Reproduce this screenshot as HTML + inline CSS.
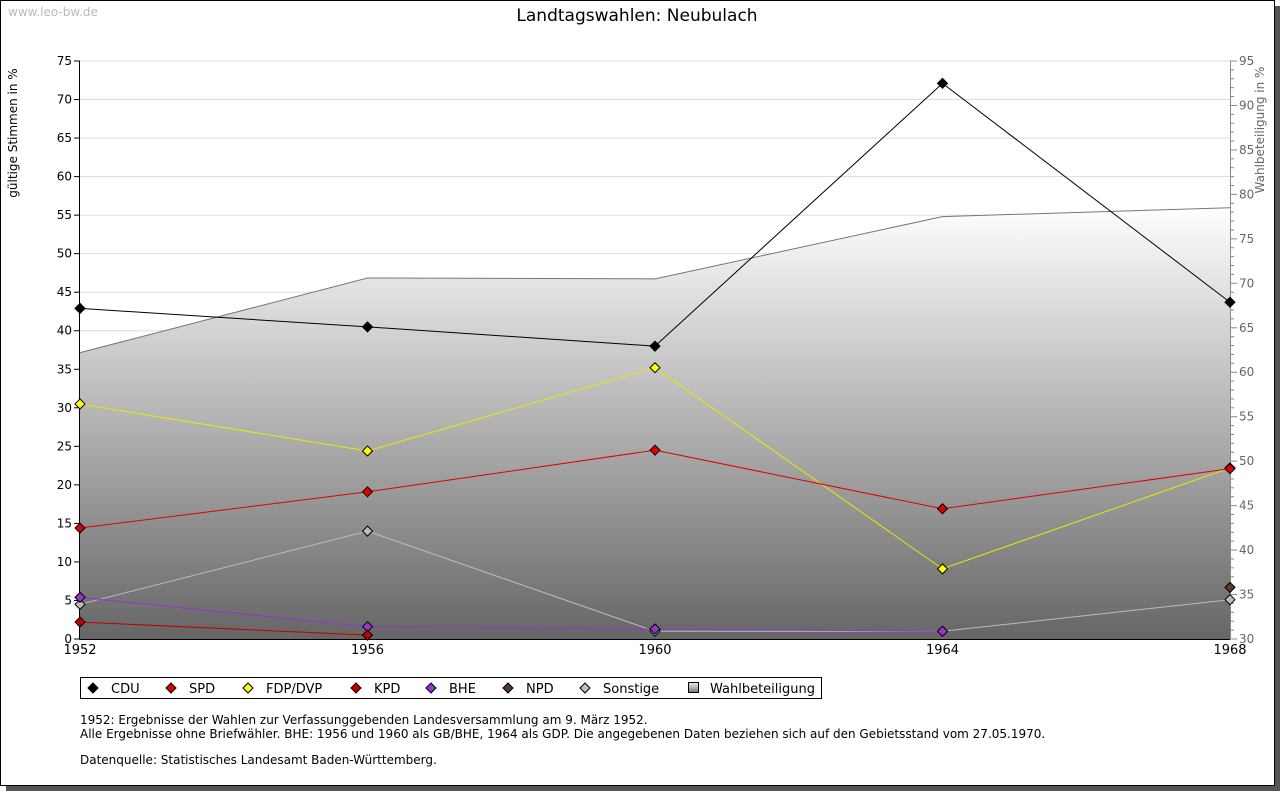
<!DOCTYPE html>
<html><head><meta charset="utf-8"><style>
body{margin:0;background:#fff;font-family:"DejaVu Sans","Liberation Sans",sans-serif;}
svg text{font-family:"DejaVu Sans","Liberation Sans",sans-serif;}
</style></head><body>
<svg id="c" width="1280" height="791" xmlns="http://www.w3.org/2000/svg">
<defs>
<linearGradient id="g" gradientUnits="userSpaceOnUse" x1="0" y1="205" x2="0" y2="639">
<stop offset="0" stop-color="#ffffff"/><stop offset="1" stop-color="#666666"/></linearGradient>
<linearGradient id="lg" x1="0" y1="0" x2="0" y2="1"><stop offset="0" stop-color="#eee"/><stop offset="1" stop-color="#777"/></linearGradient>
</defs>
<rect x="6" y="6" width="1274" height="785" fill="#555"/>
<rect x="0.5" y="0.5" width="1274" height="785" fill="#fff" stroke="#000"/>
<text x="8" y="16" font-size="12" fill="#bbb">www.leo-bw.de</text>
<text x="637" y="21" font-size="17" text-anchor="middle">Landtagswahlen: Neubulach</text>
<text transform="translate(17,133) rotate(-90)" font-size="12" text-anchor="middle">gültige Stimmen in %</text>
<text transform="translate(1264,130) rotate(-90)" font-size="12" fill="#666" text-anchor="middle">Wahlbeteiligung in %</text>
<g id="plot"></g>
<rect x="80.5" y="677.5" width="741" height="21" fill="none" stroke="#000"/>
<g id="leg"></g>
<text font-size="12"><tspan x="80" y="724">1952: Ergebnisse der Wahlen zur Verfassunggebenden Landesversammlung am 9. März 1952.</tspan><tspan x="80" y="738">Alle Ergebnisse ohne Briefwähler. BHE: 1956 und 1960 als GB/BHE, 1964 als GDP. Die angegebenen Daten beziehen sich auf den Gebietsstand vom 27.05.1970.</tspan><tspan x="80" y="764">Datenquelle: Statistisches Landesamt Baden-Württemberg.</tspan></text>
</svg>
<script>
const years=[1952,1956,1960,1964,1968];
const yTicks=[0,5,10,15,20,25,30,35,40,45,50,55,60,65,70,75];
const y2Ticks=[30,35,40,45,50,55,60,65,70,75,80,85,90,95];
const turnout=[62.2,70.6,70.5,77.5,78.5];
const cdu=[42.9,40.5,38.0,72.1,43.7];
const spd=[14.4,19.1,24.5,16.9,22.1];
const fdp=[30.5,24.4,35.2,9.1,22.2];
const kpd=[2.2,0.5,null,null,null];
const bhe=[5.4,1.6,1.3,1.0,null];
const npd=[null,null,null,null,6.7];
const sonst=[4.5,14.0,1.0,1.0,5.1];
const series=[["CDU",cdu,"#000","#000"],["SPD",spd,"#e00000","#e00000"],["FDP/DVP",fdp,"#e8e800","#ffff00"],["KPD",kpd,"#c00000","#c00000"],["BHE",bhe,"#9933cc","#9933cc"],["NPD",npd,"#5a3a2a","#5a3a2a"],["Sonstige",sonst,"#bbb","#bbb"]];
const NS="http://www.w3.org/2000/svg";
const X0=80,X1=1230,Y0=639,Y1=61;
const xs=i=>X0+(X1-X0)*(years[i]-1952)/16;
const ys=v=>Y0-(Y0-Y1)*v/75;
const ys2=v=>Y0-(Y0-Y1)*(v-30)/65;
const plot=document.getElementById('plot');
function mk(t,a,p){const e=document.createElementNS(NS,t);for(const k in a)e.setAttribute(k,a[k]);(p||plot).appendChild(e);return e;}
yTicks.forEach(v=>{if(v>0){const l=mk('line',{x1:X0,x2:X1,y1:ys(v),y2:ys(v),stroke:'#ddd'});}});
let d='M'+xs(0)+','+Y0;turnout.forEach((v,i)=>d+=' L'+xs(i)+','+ys2(v));d+=' L'+xs(4)+','+Y0+'Z';
const ar=mk('path',{d:d,fill:'url(#g)'});
const tl=mk('polyline',{points:turnout.map((v,i)=>xs(i)+','+ys2(v)).join(' '),fill:'none',stroke:'#777'});
mk('line',{x1:X0-0.5,x2:X0-0.5,y1:Y1,y2:Y0,stroke:'#000'});
mk('line',{x1:X0-0.5,x2:X1,y1:Y0+0.5,y2:Y0+0.5,stroke:'#000'});
mk('line',{x1:X1+0.5,x2:X1+0.5,y1:Y1,y2:Y0,stroke:'#888'});
yTicks.forEach(v=>{mk('line',{x1:X0-6,x2:X0,y1:ys(v),y2:ys(v),stroke:'#000'});const t=mk('text',{x:X0-8,y:ys(v)+4,'font-size':12,'text-anchor':'end'});t.textContent=v;});
for(let v=30;v<=95;v++){mk('line',{x1:X1,x2:X1+(v%5?4:7),y1:ys2(v),y2:ys2(v),stroke:'#888'});}
y2Ticks.forEach(v=>{const t=mk('text',{x:X1+9,y:ys2(v)+4,'font-size':12,fill:'#666'});t.textContent=v;});
years.forEach((y,i)=>{const t=mk('text',{x:xs(i),y:654,'font-size':13,'text-anchor':'middle'});t.textContent=y;});
function dia(x,y,f,p){const m=mk('path',{d:`M${x-5},${y} L${x},${y-5} L${x+5},${y} L${x},${y+5}Z`,fill:f,stroke:'#000','stroke-width':1},p);return m;}
series.slice().reverse().forEach(([n,vals,lc,fc])=>{
 let pts=[];vals.forEach((v,i)=>{if(v!==null)pts.push(xs(i)+','+ys(v));});
 const pl=mk('polyline',{points:pts.join(' '),fill:'none',stroke:lc});
 vals.forEach((v,i)=>{if(v!==null){const m=dia(xs(i),ys(v),fc);}});
});
const leg=document.getElementById('leg');
const lx=[93,171,248,356,431,508,585];
series.forEach(([n,v,lc,fc],i)=>{const m=dia(lx[i],688,fc,leg);
 const t=mk('text',{x:lx[i]+18,y:693,'font-size':13},leg);t.textContent=n;});
const sq=mk('rect',{x:688.5,y:682.5,width:10,height:10,fill:'url(#lg)',stroke:'#000'},leg);
const tt=mk('text',{x:710,y:693,'font-size':13},leg);tt.textContent='Wahlbeteiligung';
</script>
</body></html>
